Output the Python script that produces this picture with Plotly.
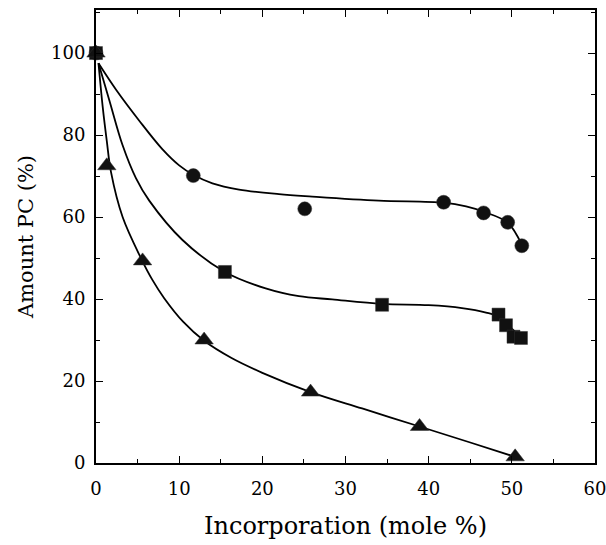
import plotly.graph_objects as go

# Measured data points
circle_x = [0, 11.7, 25.1, 41.8, 46.6, 49.5, 51.2]
circle_y = [100, 70.1, 62.0, 63.6, 61.0, 58.7, 53.0]
square_x = [0, 15.5, 34.4, 48.4, 49.3, 50.2, 51.1]
square_y = [100, 46.6, 38.6, 36.2, 33.6, 30.8, 30.5]
tri_x = [0, 1.3, 5.6, 13.0, 25.8, 38.9, 50.4]
tri_y = [100, 72.5, 49.3, 30.0, 17.3, 8.9, 1.5]

# Fitted curves
circle_fit_x = [0.3, 2.5, 5.2, 8, 10, 11.7, 14, 17.2, 22, 26, 34, 41.8, 44.5, 46.6, 49.5, 51.2]
circle_fit_y = [97.5, 90.8, 83.5, 76.5, 72.6, 70.3, 68.2, 66.7, 65.6, 65.0, 64.0, 63.5, 62.6, 61.3, 58.6, 53.2]
square_fit_x = [0.3, 1.6, 3.2, 4.8, 6.4, 10.4, 15.5, 20.4, 24.4, 28.4, 34.4, 40, 44, 46.9, 48.5, 50, 51.1]
square_fit_y = [97.5, 88.5, 77.5, 69.5, 64.0, 54.4, 46.6, 42.6, 40.7, 39.9, 38.8, 38.5, 37.8, 36.7, 35.6, 32.8, 30.5]
tri_fit_x = [0.3, 0.8, 1.3, 1.8, 3.2, 5.4, 6.8, 8.2, 10.5, 13, 16.3, 20, 25.8, 32, 38.9, 45, 50.4]
tri_fit_y = [97.5, 87, 78.5, 71, 60, 50, 44.6, 40.2, 34.4, 29.8, 25.6, 22.0, 17.3, 13.3, 8.9, 5.0, 1.5]

x_ticks = [0, 10, 20, 30, 40, 50, 60]
y_ticks = [0, 20, 40, 60, 80, 100]

FONT = "DejaVu Serif"
fig = go.Figure()

for fx, fy in [(circle_fit_x, circle_fit_y), (square_fit_x, square_fit_y), (tri_fit_x, tri_fit_y)]:
    fig.add_trace(go.Scatter(x=fx, y=fy, mode="lines", line=dict(color="black", width=1.8, shape="spline", smoothing=1.0),
                             hoverinfo="skip", showlegend=False, cliponaxis=False))

for xs, ys, sym, sz in [(circle_x, circle_y, "circle", 14), (square_x, square_y, "square", 13), (tri_x, tri_y, "triangle-up", 16)]:
    fig.add_trace(go.Scatter(x=xs, y=ys, mode="markers",
                             marker=dict(symbol=sym, size=sz, color="#111111", line=dict(color="#333333", width=0.5)),
                             showlegend=False, cliponaxis=False))

axis_common = dict(showline=True, linecolor="black", linewidth=2, mirror="ticks", ticks="inside",
                   tickcolor="black", ticklen=7, tickwidth=1.2, showgrid=False, zeroline=False, automargin=False,
                   ticklabeloverflow="allow", tickfont=dict(family=FONT, size=18, color="black"))

fig.update_xaxes(range=[0, 60], tickvals=x_ticks, ticktext=[str(v) for v in x_ticks], ticklabelstandoff=8,
                 minor=dict(dtick=5, tick0=0, ticks="inside", ticklen=4, tickcolor="black"),
                 title=dict(text="Incorporation (mole %)", font=dict(family=FONT, size=24, color="black"), standoff=20),
                 **axis_common)
fig.update_yaxes(range=[0, 110.5], tickvals=y_ticks, ticktext=[str(v) for v in y_ticks], ticklabelstandoff=5,
                 minor=dict(dtick=10, tick0=0, ticks="inside", ticklen=4, tickcolor="black"),
                 title=dict(text="Amount PC (%)", font=dict(family=FONT, size=21, color="black"), standoff=12),
                 **axis_common)

fig.update_layout(width=606, height=545, margin=dict(l=96, r=11, t=10, b=82),
                  plot_bgcolor="white", paper_bgcolor="white")

fig.write_html("out.html", config={"displayModeBar": False},
               post_script="document.body.style.margin='0';document.body.style.overflow='hidden';")
